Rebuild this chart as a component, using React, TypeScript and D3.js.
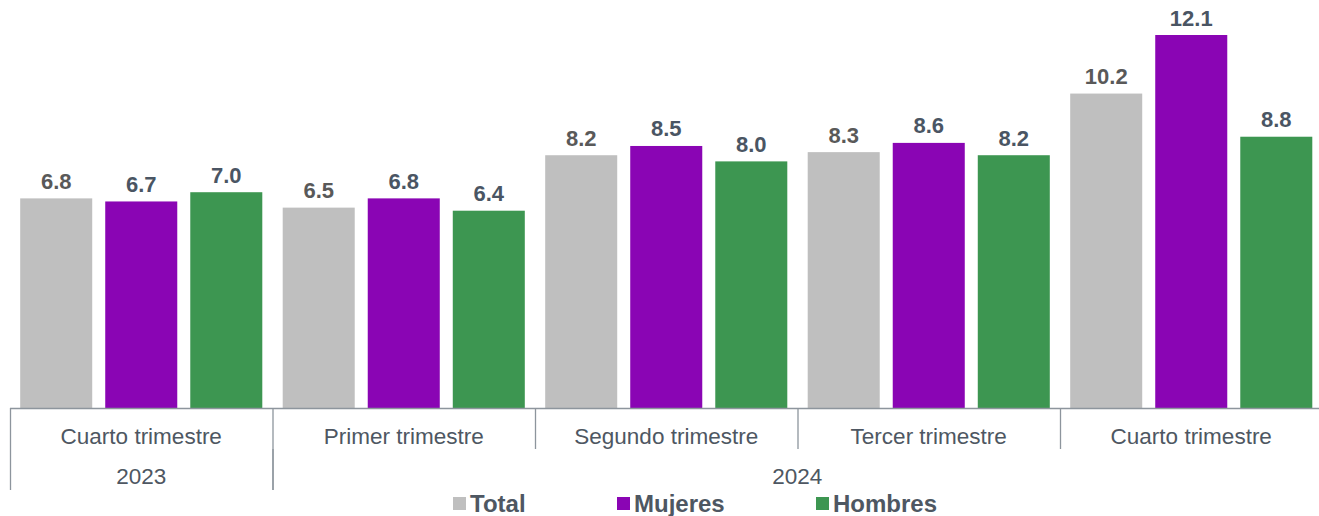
import React from "react";
import * as d3 from "d3";

const categories = ["Cuarto trimestre", "Primer trimestre", "Segundo trimestre", "Tercer trimestre", "Cuarto trimestre"];
const years = [
  { label: "2023", from: 0, to: 1 },
  { label: "2024", from: 1, to: 5 },
];
const seriesNames = ["Total", "Mujeres", "Hombres"];
const totalValues = [6.8, 6.5, 8.2, 8.3, 10.2];
const mujeresValues = [6.7, 6.8, 8.5, 8.6, 12.1];
const hombresValues = [7.0, 6.4, 8.0, 8.2, 8.8];
const colors = ["#bfbfbf", "#8a05b4", "#3d9651"];
const labelColors = ["#595959", "#4a5563", "#4a5563"];

const W = 1319;
const H = 516;
const TEXT = "#4e5762";
const AXIS = "#8d959d";

export default function App() {
  const values = [totalValues, mujeresValues, hombresValues];
  const idx = categories.map((_, i) => String(i));
  const x0 = d3.scaleBand().domain(idx).range([10, 1322.5]).padding(0);
  const x1 = d3
    .scaleBand()
    .domain(seriesNames)
    .range([0, x0.bandwidth()])
    .paddingInner(0.153)
    .paddingOuter(0.12);
  const baseY = 408;
  const y = d3.scaleLinear().domain([0, 12.1]).range([baseY, 35]);

  const font = "'Liberation Sans', Arial, sans-serif";

  return (
    <svg
      width={W}
      height={H}
      style={{ position: "absolute", left: 0, top: 0, fontFamily: font }}
    >
      {categories.map((c, i) =>
        seriesNames.map((s, j) => {
          const v = values[j][i];
          const bx = (x0(String(i)) as number) + (x1(s) as number);
          const bw = x1.bandwidth();
          return (
            <g key={`${i}-${j}`}>
              <rect x={bx} y={y(v)} width={bw} height={baseY - y(v)} fill={colors[j]} />
              <text
                x={bx + bw / 2}
                y={y(v) - 9.5}
                textAnchor="middle"
                fontSize={22}
                fontWeight="bold"
                fill={labelColors[j]}
              >
                {v.toFixed(1)}
              </text>
            </g>
          );
        })
      )}
      <line x1={10} x2={1322} y1={baseY + 0.5} y2={baseY + 0.5} stroke={AXIS} strokeWidth={1.3} />
      {categories.map((c, i) => {
        const xs = x0(String(i)) as number;
        return (
          <g key={"t" + i}>
            <line x1={xs + 0.5} x2={xs + 0.5} y1={baseY} y2={449} stroke={AXIS} strokeWidth={1.3} />
            <text
              x={xs + x0.bandwidth() / 2}
              y={444}
              textAnchor="middle"
              fontSize={22.5}
              fill={TEXT}
            >
              {c}
            </text>
          </g>
        );
      })}
      {years.map((yr) => {
        const xa = x0(String(yr.from)) as number;
        const xb = yr.to >= categories.length ? 1322 : (x0(String(yr.to)) as number);
        return (
          <g key={yr.label}>
            <line x1={xa + 0.5} x2={xa + 0.5} y1={449} y2={490} stroke={AXIS} strokeWidth={1.3} />
            <line x1={xb + 0.5} x2={xb + 0.5} y1={449} y2={490} stroke={AXIS} strokeWidth={1.3} />
            <text x={(xa + xb) / 2} y={484} textAnchor="middle" fontSize={22.5} fill={TEXT}>
              {yr.label}
            </text>
          </g>
        );
      })}
      {seriesNames.map((s, j) => {
        const lx = [453, 617, 816][j];
        return (
          <g key={"l" + s}>
            <rect x={lx} y={497} width={13} height={13} fill={colors[j]} />
            <text x={lx + 17} y={512} fontSize={24} fontWeight="bold" fill={TEXT}>
              {s}
            </text>
          </g>
        );
      })}
    </svg>
  );
}
